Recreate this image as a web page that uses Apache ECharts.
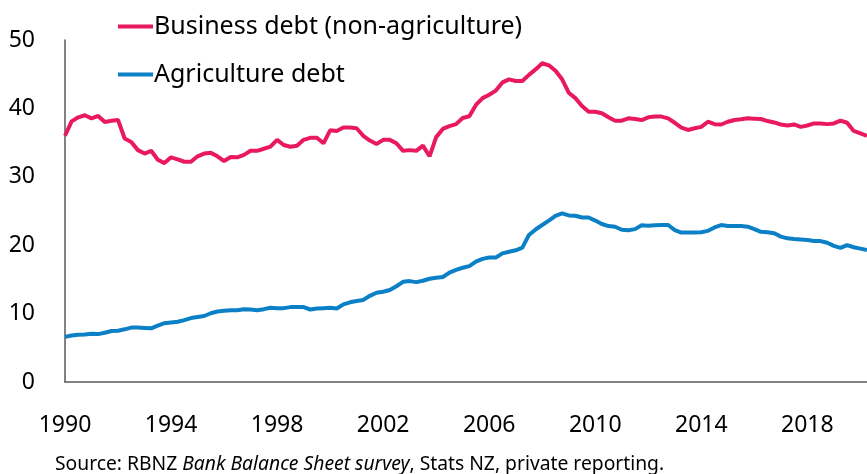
<!DOCTYPE html>
<html>
<head>
<meta charset="utf-8">
<script src="https://cdn.jsdelivr.net/npm/echarts@6/dist/echarts.min.js"></script>
<style>
  html, body { margin: 0; padding: 0; background: #fff; }
  #chart { width: 867px; height: 474px; }
</style>
</head>
<body>
<div id="chart"></div>
<script>
// Quarterly series, first quarter of 1990 onwards (% of total lending)
const startYear = 1990;
const businessDebt = [
  36.0, 38.1, 38.7, 39.0, 38.55, 38.9, 38.0, 38.2, 38.3, 35.6,
  35.1, 33.9, 33.4, 33.8, 32.5, 32.0, 32.85, 32.55, 32.2, 32.2,
  33.0, 33.4, 33.5, 33.0, 32.3, 32.9, 32.85, 33.2, 33.8, 33.8,
  34.1, 34.4, 35.4, 34.65, 34.4, 34.55, 35.4, 35.7, 35.7, 34.9,
  36.8, 36.7, 37.2, 37.2, 37.1, 36.0, 35.3, 34.8, 35.4, 35.4,
  34.9, 33.8, 33.9, 33.8, 34.55, 33.0, 35.8, 37.0, 37.4, 37.7,
  38.6, 38.85, 40.5, 41.5, 42.0, 42.6, 43.8, 44.25, 44.0, 44.0,
  44.9, 45.7, 46.6, 46.3, 45.5, 44.25, 42.3, 41.5, 40.35, 39.5,
  39.5, 39.3, 38.7, 38.2, 38.2, 38.55, 38.45, 38.3, 38.7, 38.8,
  38.8, 38.55, 37.9, 37.2, 36.85, 37.1, 37.3, 38.05, 37.7, 37.65,
  38.05, 38.3, 38.4, 38.55, 38.5, 38.45, 38.15, 37.95, 37.65, 37.5,
  37.65, 37.3, 37.5, 37.8, 37.8, 37.7, 37.8, 38.2, 37.9, 36.7,
  36.35, 36.0
];
const agricultureDebt = [
  6.6, 6.8, 6.9, 6.95, 7.05, 7.0, 7.2, 7.45, 7.5, 7.7,
  7.95, 7.95, 7.9, 7.85, 8.25, 8.6, 8.7, 8.8, 9.05, 9.35,
  9.5, 9.65, 10.05, 10.3, 10.4, 10.5, 10.5, 10.65, 10.6, 10.5,
  10.65, 10.85, 10.8, 10.8, 10.95, 10.95, 10.95, 10.6, 10.75, 10.8,
  10.85, 10.75, 11.35, 11.65, 11.85, 12.0, 12.6, 13.05, 13.2, 13.45,
  14.0, 14.65, 14.75, 14.6, 14.8, 15.1, 15.25, 15.35, 16.0, 16.4,
  16.7, 16.95, 17.6, 18.0, 18.2, 18.2, 18.8, 19.05, 19.25, 19.65,
  21.5, 22.3, 22.95, 23.6, 24.3, 24.65, 24.35, 24.3, 24.05, 24.05,
  23.6, 23.1, 22.8, 22.7, 22.25, 22.2, 22.35, 22.9, 22.85, 22.9,
  22.95, 22.95, 22.2, 21.85, 21.85, 21.85, 21.9, 22.1, 22.6, 22.95,
  22.8, 22.8, 22.8, 22.7, 22.35, 21.95, 21.9, 21.75, 21.25, 21.0,
  20.9, 20.85, 20.75, 20.6, 20.6, 20.35, 19.9, 19.6, 20.0, 19.7,
  19.5, 19.3
];
const seriesNames = ['Business debt (non-agriculture)', 'Agriculture debt'];
const yTicks = [0, 10, 20, 30, 40, 50];
const xTickYears = [1990, 1994, 1998, 2002, 2006, 2010, 2014, 2018];
const sourceParts = ['Source: RBNZ ', 'Bank Balance Sheet survey', ', Stats NZ, private reporting.'];

// x is measured in years since startYear so that tick spacing starts at 0
const toPoints = arr => arr.map((v, i) => [i / 4, v]);
const lastX = (businessDebt.length - 1) / 4;

const FONT = "'Noto Sans', 'Open Sans', sans-serif";
const chart = echarts.init(document.getElementById('chart'), null, { renderer: 'canvas' });

chart.setOption({
  animation: false,
  textStyle: { fontFamily: FONT },
  grid: { left: 65, right: 0, top: 40, bottom: 92, containLabel: false },
  legend: {
    orient: 'vertical',
    left: 113,
    top: 9,
    itemWidth: 35,
    itemHeight: 4,
    itemGap: 23,
    icon: 'rect',
    textStyle: { fontFamily: FONT, fontSize: 25, color: '#000', padding: [0, 0, 0, -4] },
    data: seriesNames
  },
  title: {
    left: 50,
    top: 450,
    text: '{n|' + sourceParts[0] + '}{i|' + sourceParts[1] + '}{n|' + sourceParts[2] + '}',
    textStyle: {
      fontWeight: 'normal',
      rich: {
        n: { fontFamily: FONT, fontSize: 19.3, fontWeight: 'normal', color: '#000' },
        i: { fontFamily: FONT, fontSize: 19.3, fontWeight: 'normal', color: '#000', fontStyle: 'italic' }
      }
    }
  },
  xAxis: {
    type: 'value',
    min: 0,
    max: lastX,
    interval: 4,
    axisLine: { show: true, lineStyle: { color: '#595959', width: 1.5 } },
    axisTick: { show: false },
    splitLine: { show: false },
    axisLabel: {
      fontFamily: FONT,
      fontSize: 23,
      color: '#000',
      margin: 32,
      showMaxLabel: false,
      formatter: v => {
        const yr = startYear + v;
        return xTickYears.includes(yr) ? String(yr) : '';
      }
    }
  },
  yAxis: {
    type: 'value',
    min: yTicks[0],
    max: yTicks[yTicks.length - 1],
    interval: 10,
    axisLine: { show: true, lineStyle: { color: '#595959', width: 1.5 } },
    axisTick: { show: false },
    splitLine: { show: false },
    axisLabel: { fontFamily: FONT, fontSize: 23, color: '#000', margin: 30 }
  },
  series: [
    {
      name: seriesNames[0],
      type: 'line',
      data: toPoints(businessDebt),
      showSymbol: false,
      lineStyle: { color: '#E9195F', width: 4 },
      itemStyle: { color: '#E9195F' },
      clip: false
    },
    {
      name: seriesNames[1],
      type: 'line',
      data: toPoints(agricultureDebt),
      showSymbol: false,
      lineStyle: { color: '#0B80C7', width: 4 },
      itemStyle: { color: '#0B80C7' },
      clip: false
    }
  ]
});
</script>
</body>
</html>
